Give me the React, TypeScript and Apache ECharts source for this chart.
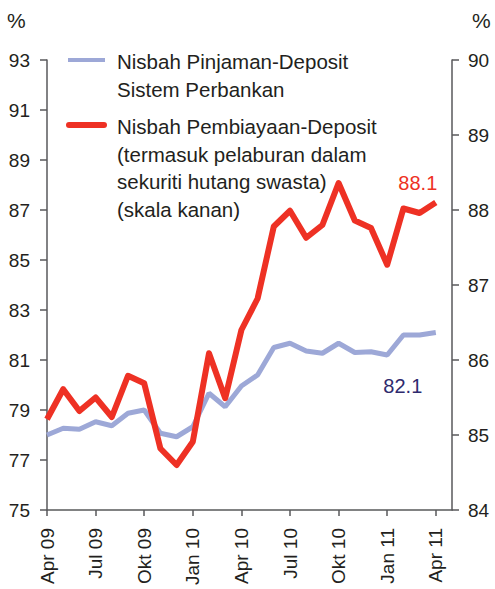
import React, { useEffect, useRef } from "react";
import * as echarts from "echarts";

const months = [
  "Apr 09", "Mei 09", "Jun 09", "Jul 09", "Ogo 09", "Sep 09", "Okt 09", "Nov 09", "Dis 09",
  "Jan 10", "Feb 10", "Mac 10", "Apr 10", "Mei 10", "Jun 10", "Jul 10", "Ogo 10", "Sep 10",
  "Okt 10", "Nov 10", "Dis 10", "Jan 11", "Feb 11", "Mac 11", "Apr 11", "Mei 11",
];

const loanDeposit = [
  78.0, 78.27, 78.23, 78.53, 78.37, 78.87, 79.0, 78.07, 77.93, 78.33, 79.67, 79.13,
  79.96, 80.4, 81.5, 81.67, 81.36, 81.27, 81.67, 81.3, 81.33, 81.2, 82.0, 82.0, 82.1,
];

const financingDeposit = [
  85.21, 85.61, 85.32, 85.5, 85.24, 85.79, 85.69, 84.82, 84.6, 84.91, 86.09, 85.49,
  86.4, 86.82, 87.78, 87.99, 87.63, 87.8, 88.36, 87.86, 87.76, 87.27, 88.02, 87.96, 88.1,
];

const legendBlue = "Nisbah Pinjaman-Deposit\nSistem Perbankan";
const legendRed =
  "Nisbah Pembiayaan-Deposit\n(termasuk pelaburan dalam\nsekuriti hutang swasta)\n(skala kanan)";

const FONT = "Liberation Sans, Arial, sans-serif";
const TEXT = "#231f20";
const AXIS = "#58595b";
const BLUE = "#9da8d7";
const RED = "#ee3124";
const NAVY = "#2e2a6e";

export default function App() {
  const ref = useRef<HTMLDivElement>(null);

  useEffect(() => {
    if (!ref.current) return;
    const chart = echarts.init(ref.current, undefined, { renderer: "svg" });

    const lastIdx = loanDeposit.length - 1;
    const blueData = loanDeposit.map((v, i) =>
      i === lastIdx
        ? {
            value: v,
            label: {
              show: true,
              position: "bottom",
              distance: 5,
              offset: [-33, 38],
              formatter: () => v.toFixed(1),
              color: NAVY,
              fontSize: 20,
              fontFamily: FONT,
            },
          }
        : v
    );
    const redData = financingDeposit.map((v, i) =>
      i === lastIdx
        ? {
            value: v,
            label: {
              show: true,
              position: "top",
              distance: 5,
              offset: [-18, -5],
              formatter: () => v.toFixed(1),
              color: RED,
              fontSize: 20,
              fontFamily: FONT,
            },
          }
        : v
    );

    chart.setOption({
      animation: false,
      backgroundColor: "#ffffff",
      textStyle: { fontFamily: FONT, color: TEXT },
      grid: { left: 47, right: 43, top: 60, bottom: 79 },
      xAxis: {
        type: "category",
        data: months,
        boundaryGap: false,
        axisLine: { lineStyle: { color: AXIS, width: 1.5 } },
        axisTick: { interval: 2, length: 6, lineStyle: { color: AXIS, width: 1.5 } },
        axisLabel: {
          interval: 2,
          rotate: 90,
          margin: 18,
          fontSize: 19,
          color: TEXT,
          fontFamily: FONT,
        },
        splitLine: { show: false },
      },
      yAxis: [
        {
          type: "value",
          min: 75,
          max: 93,
          interval: 2,
          position: "left",
          axisLine: { show: true, lineStyle: { color: AXIS, width: 1.5 } },
          axisTick: { show: true, length: 7, lineStyle: { color: AXIS, width: 1.5 } },
          axisLabel: { margin: 17, fontSize: 19, color: TEXT, fontFamily: FONT },
          splitLine: { show: false },
        },
        {
          type: "value",
          min: 84,
          max: 90,
          interval: 1,
          position: "right",
          axisLine: { show: true, lineStyle: { color: AXIS, width: 1.5 } },
          axisTick: { show: true, length: 7, lineStyle: { color: AXIS, width: 1.5 } },
          axisLabel: { margin: 16, fontSize: 19, color: TEXT, fontFamily: FONT },
          splitLine: { show: false },
        },
      ],
      series: [
        {
          type: "line",
          name: "Nisbah Pinjaman-Deposit",
          yAxisIndex: 0,
          data: blueData,
          symbol: "circle",
          symbolSize: 0,
          showSymbol: true,
          lineStyle: { color: BLUE, width: 5 },
          itemStyle: { color: BLUE },
          z: 2,
        },
        {
          type: "line",
          name: "Nisbah Pembiayaan-Deposit",
          yAxisIndex: 1,
          data: redData,
          symbol: "circle",
          symbolSize: 0,
          showSymbol: true,
          lineStyle: { color: RED, width: 6, join: "round" },
          itemStyle: { color: RED },
          z: 3,
        },
      ],
      graphic: [
        {
          type: "text",
          left: 7,
          top: 10,
          style: { text: "%", fontSize: 21, fontFamily: FONT, fill: TEXT },
        },
        {
          type: "text",
          left: 472,
          top: 10,
          style: { text: "%", fontSize: 21, fontFamily: FONT, fill: TEXT },
        },
        {
          type: "line",
          shape: { x1: 68, y1: 60, x2: 105, y2: 60 },
          style: { stroke: BLUE, lineWidth: 4 },
        },
        {
          type: "text",
          x: 117,
          y: 47,
          style: {
            text: legendBlue,
            fontSize: 20.5,
            lineHeight: 28,
            fontFamily: FONT,
            fill: TEXT,
            verticalAlign: "top",
          },
        },
        {
          type: "line",
          shape: { x1: 69, y1: 125, x2: 104, y2: 125 },
          style: { stroke: RED, lineWidth: 6, lineCap: "round" },
        },
        {
          type: "text",
          x: 117,
          y: 113,
          style: {
            text: legendRed,
            fontSize: 20.5,
            lineHeight: 27.5,
            fontFamily: FONT,
            fill: TEXT,
            verticalAlign: "top",
          },
        },
      ],
    });

    return () => chart.dispose();
  }, []);

  return (
    <div
      ref={ref}
      style={{ position: "fixed", left: 0, top: 0, width: 495, height: 589 }}
    />
  );
}
